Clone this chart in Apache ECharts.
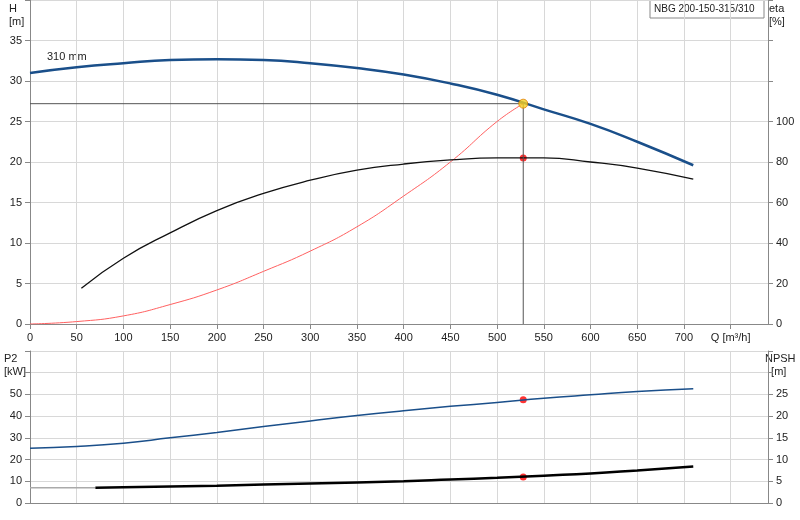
<!DOCTYPE html><html><head><meta charset="utf-8"><script src="https://cdn.jsdelivr.net/npm/echarts@6/dist/echarts.min.js"></script></head><body style="margin:0"><div id="c" style="width:800px;height:520px"></div><script>
const hQ=[0,50,100,150,200,250,300,350,400,450,500,550,600,650,710];
const hV=[31,31.7,32.2,32.6,32.7,32.6,32.2,31.6,30.8,29.7,28.3,26.5,24.7,22.5,19.6];
const etaQ=[55,100,150,200,250,300,350,400,450,500,550,600,650,710];
const etaV=[17.7,32.5,45,56,64.5,71,76,79,81,82,82,80,77,71.5];
const sysQ=[0,50,100,150,200,250,300,350,400,450,500,528];
const sysV=[0,0.3,1,2.4,4.2,6.5,9,12,15.8,20,25,27.2];
const p2Q=[0,50,100,150,200,250,300,350,400,450,500,550,600,650,710];
const p2V=[25.2,26,27.5,30,32.5,35.2,37.8,40.3,42.5,44.5,46.3,48.2,49.8,51.3,52.6];
const npQ=[70,100,200,300,400,450,500,550,600,650,710];
const npV=[3.5,3.6,4.0,4.5,5.0,5.4,5.8,6.3,6.8,7.5,8.4];
const opQ=528, opH=27.2, opEta=82, opP2=47.5, opNp=6.0;
const z=(a,b)=>a.map((x,i)=>[x,b[i]]);
const F='Arial, Liberation Sans, sans-serif';
const gl={lineStyle:{color:'#d8d8d8'}};
const lab={fontSize:11,color:'#222',fontFamily:F};
const ch=echarts.init(document.getElementById('c'));
ch.setOption({animation:false,backgroundColor:'#fff',
grid:[{left:30,right:32,top:0,height:324},{left:30,right:32,top:351,height:152}],
xAxis:[{gridIndex:0,min:0,max:790,interval:50,axisLine:{lineStyle:{color:'#888'}},axisTick:{show:true},splitLine:gl,
 axisLabel:{...lab,formatter:v=>v==750?'Q [m³/h]':(v<=700?String(v):''),showMaxLabel:false}},
 {gridIndex:1,min:0,max:790,interval:50,axisLine:{lineStyle:{color:'#888'}},axisTick:{show:false},axisLabel:{show:false},splitLine:gl}],
yAxis:[{gridIndex:0,min:0,max:40,interval:5,axisLine:{show:true,lineStyle:{color:'#888'}},axisTick:{show:true},splitLine:gl,axisLabel:{...lab,formatter:v=>v>35?'':v}},
 {gridIndex:0,min:0,max:160,interval:20,position:'right',axisLine:{show:true,lineStyle:{color:'#888'}},axisTick:{show:true},splitLine:{show:false},axisLabel:{...lab,formatter:v=>v>100?'':v}},
 {gridIndex:1,min:0,max:70,interval:10,axisLine:{show:true,lineStyle:{color:'#888'}},axisTick:{show:true},splitLine:gl,axisLabel:{...lab,formatter:v=>v>50?'':v}},
 {gridIndex:1,min:0,max:35,interval:5,position:'right',axisLine:{show:true,lineStyle:{color:'#888'}},axisTick:{show:true},splitLine:{show:false},axisLabel:{...lab,formatter:v=>v>25?'':v}}],
series:[
{type:'line',smooth:true,symbol:'none',data:z(hQ,hV),lineStyle:{color:'#1a4f8a',width:2.5}},
{type:'line',smooth:true,symbol:'none',data:z(sysQ,sysV),lineStyle:{color:'#ff6060',width:1}},
{type:'line',smooth:true,symbol:'none',yAxisIndex:1,data:z(etaQ,etaV),lineStyle:{color:'#111',width:1.3}},
{type:'line',symbol:'none',data:[[0,opH],[opQ,opH],[opQ,0]],lineStyle:{color:'#555',width:1}},
{type:'scatter',yAxisIndex:1,data:[[opQ,opEta]],symbolSize:7,itemStyle:{color:'#f00'}},
{type:'scatter',data:[[opQ,opH]],symbolSize:9,itemStyle:{color:'#f5d020',borderColor:'#e08000',borderWidth:1},z:5},
{type:'line',smooth:true,symbol:'none',xAxisIndex:1,yAxisIndex:2,data:z(p2Q,p2V),lineStyle:{color:'#1a4f8a',width:1.5}},
{type:'line',symbol:'none',xAxisIndex:1,yAxisIndex:3,data:[[0,npV[0]],[npQ[0],npV[0]]],lineStyle:{color:'#aaa',width:1.5}},
{type:'line',smooth:true,symbol:'none',xAxisIndex:1,yAxisIndex:3,data:z(npQ,npV),lineStyle:{color:'#000',width:2.5}},
{type:'scatter',xAxisIndex:1,yAxisIndex:2,data:[[opQ,opP2]],symbolSize:7,itemStyle:{color:'#f00'}},
{type:'scatter',xAxisIndex:1,yAxisIndex:3,data:[[opQ,opNp]],symbolSize:7,itemStyle:{color:'#f00'}}],
graphic:[
{type:'text',left:9,top:2,style:{text:'H\n[m]',fill:'#222',font:'11px '+F,lineHeight:13,align:'center'}},
{type:'text',left:769,top:2,style:{text:'eta\n[%]',fill:'#222',font:'11px '+F,lineHeight:13}},
{type:'text',left:47,top:51,style:{text:'310 mm',fill:'#222',font:'11px '+F}},
{type:'rect',shape:{x:650,y:0,width:114,height:18},style:{fill:'#fff',stroke:'#888'}},
{type:'text',left:654,top:4,style:{text:'NBG 200-150-315/310',fill:'#222',font:'10px '+F}},
{type:'text',left:4,top:352,style:{text:'P2\n[kW]',fill:'#222',font:'11px '+F,lineHeight:13}},
{type:'text',left:765,top:352,style:{text:'NPSH\n  [m]',fill:'#222',font:'11px '+F,lineHeight:13}}]
});
</script></body></html>
